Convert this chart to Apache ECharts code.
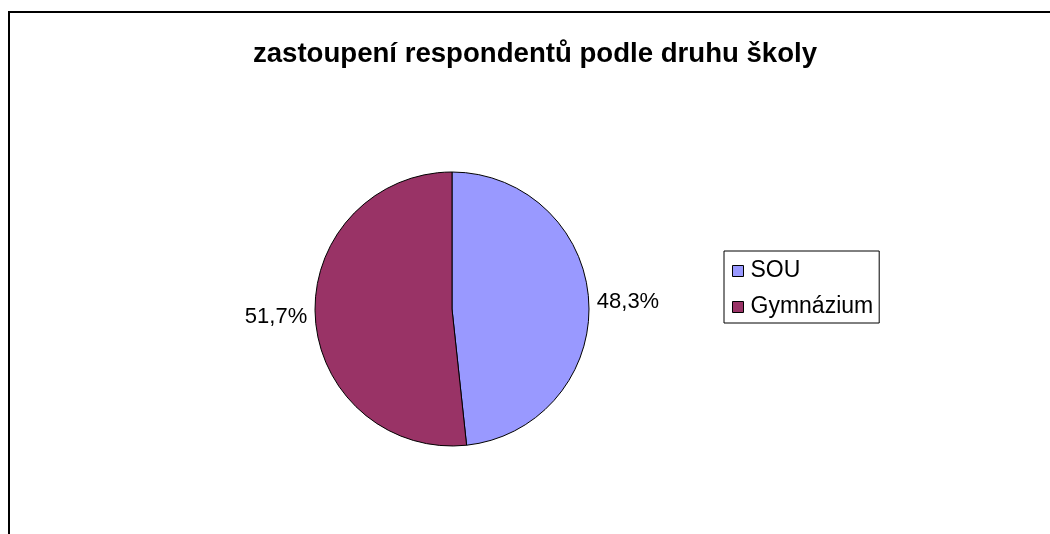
<!DOCTYPE html>
<html>
<head>
<meta charset="utf-8">
<script src="https://cdn.jsdelivr.net/npm/echarts@6/dist/echarts.min.js"></script>
<style>
  html, body { margin: 0; padding: 0; background: #fff; }
  #chart { width: 1050px; height: 534px; }
</style>
</head>
<body>
<div id="chart"></div>
<script>
// data
const titleText = 'zastoupení respondentů podle druhu školy';
const categories = ['SOU', 'Gymnázium'];
const shares = [48.3, 51.7];
const colors = ['#9999ff', '#993366'];

const myechart = echarts.init(document.getElementById('chart'));

const pieData = categories.map((name, i) => ({
  name: name,
  value: shares[i],
  itemStyle: { color: colors[i] }
}));

const option = {
  backgroundColor: '#fff',
  animation: false,
  // outer frame of the chart area (right/bottom edges run off the page)
  graphic: [{
    type: 'rect',
    shape: { x: 9, y: 12, width: 1200, height: 700 },
    style: { fill: 'none', stroke: '#000', lineWidth: 2 },
    silent: true
  }],
  title: {
    text: titleText,
    left: 530,
    top: 35,
    textAlign: 'center',
    textStyle: {
      fontFamily: 'Liberation Sans, Arial, sans-serif',
      fontWeight: 'bold',
      fontSize: 27.6,
      color: '#000'
    }
  },
  legend: {
    orient: 'vertical',
    left: 724,
    top: 251,
    padding: [8, 6, 4, 8],
    itemGap: 12,
    itemWidth: 11,
    itemHeight: 11,
    icon: 'rect',
    borderColor: '#000',
    borderWidth: 1,
    borderRadius: 0,
    itemStyle: { borderColor: '#000', borderWidth: 1 },
    textStyle: {
      fontFamily: 'Liberation Sans, Arial, sans-serif',
      fontSize: 23,
      lineHeight: 24,
      color: '#000',
      padding: [0, 0, 0, 2]
    },
    data: categories
  },
  series: [{
    type: 'pie',
    center: [452, 309],
    radius: 137,
    startAngle: 90,
    clockwise: true,
    avoidLabelOverlap: false,
    itemStyle: { borderColor: '#000', borderWidth: 1 },
    label: {
      show: true,
      position: 'outside',
      formatter: p => p.value.toFixed(1).replace('.', ',') + '%',
      fontFamily: 'Liberation Sans, Arial, sans-serif',
      fontSize: 22,
      color: '#000'
    },
    labelLine: { show: false, length: 3, length2: 0 },
    emphasis: { disabled: true },
    data: pieData
  }]
};

myechart.setOption(option);
</script>
</body>
</html>
